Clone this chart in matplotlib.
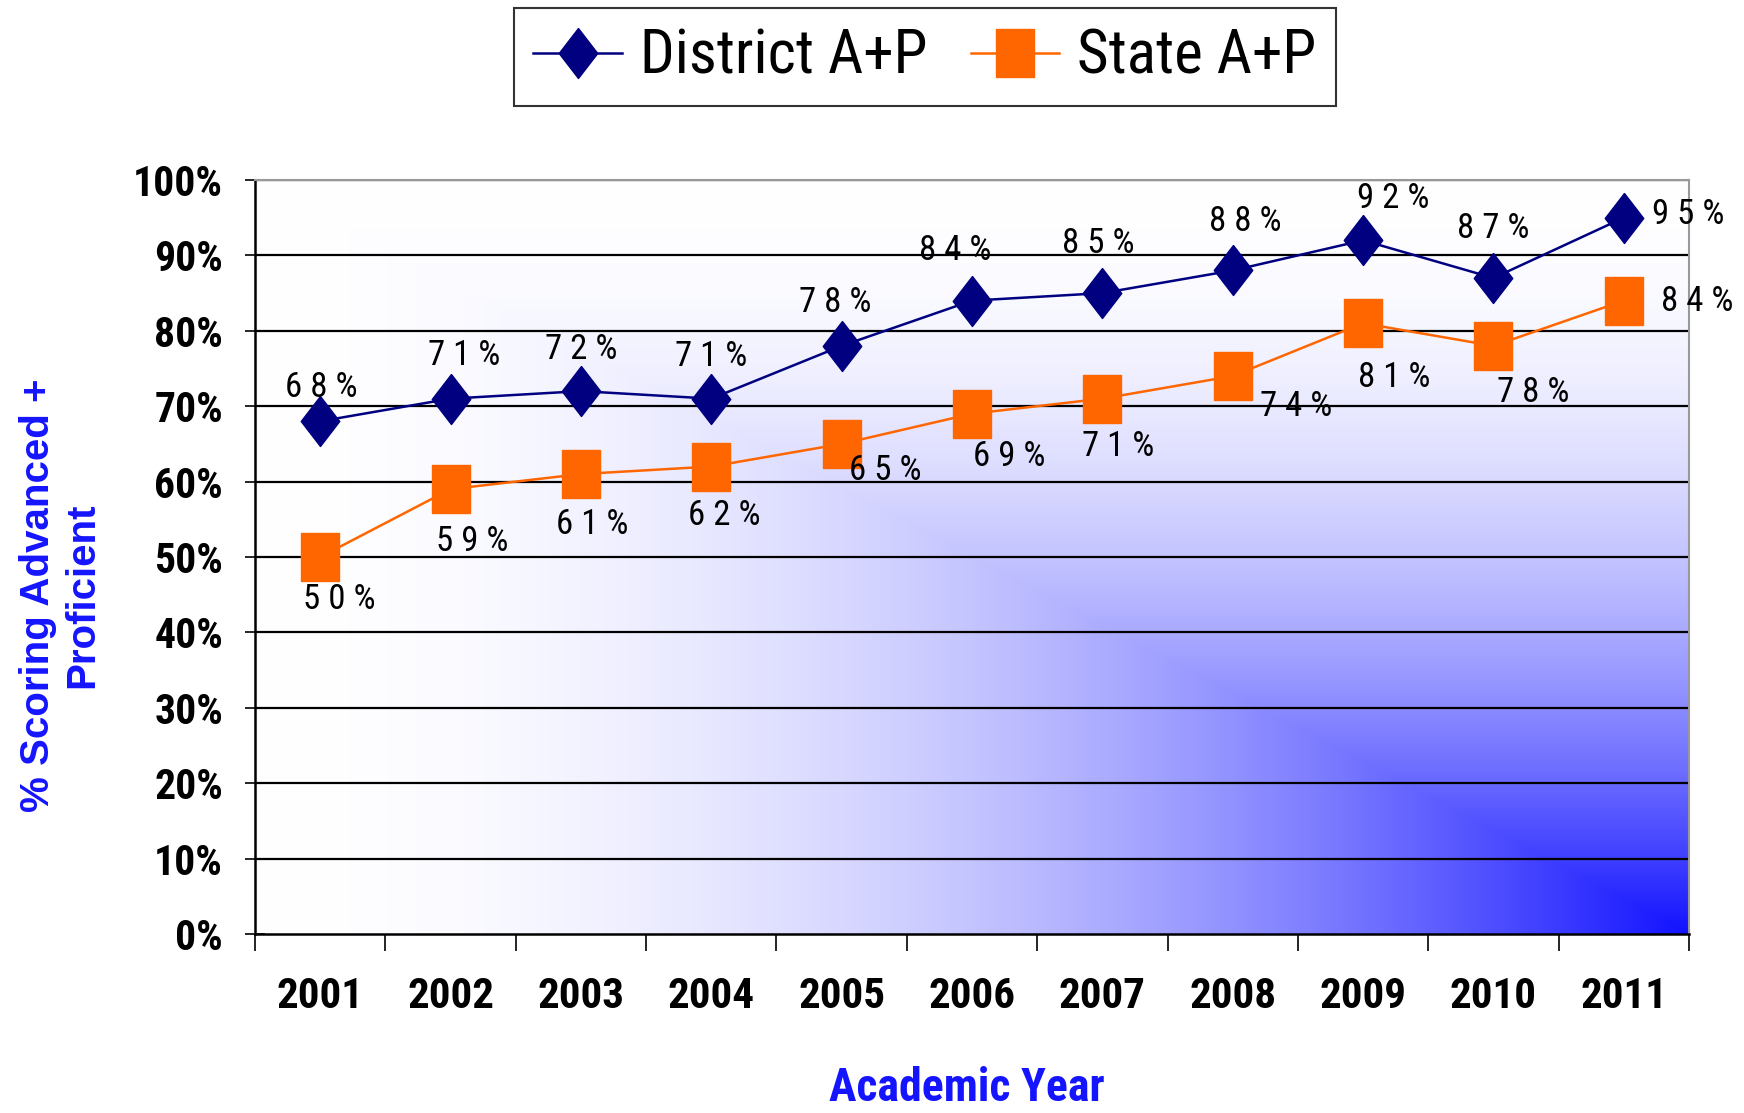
import numpy as np
import matplotlib
matplotlib.use("Agg")
import matplotlib.pyplot as plt
from matplotlib import font_manager
from matplotlib.ticker import FixedLocator, FuncFormatter

# data
years = ['2001', '2002', '2003', '2004', '2005', '2006',
         '2007', '2008', '2009', '2010', '2011']
district = [68, 71, 72, 71, 78, 84, 85, 88, 92, 87, 95]
state = [50, 59, 61, 62, 65, 69, 71, 74, 81, 78, 84]

# label offsets (pixels) for the value labels
dist_off = [(1, 34), (14, 43), (0, 42), (0, 42), (-6, 43), (-17, 50),
            (-4, 50), (13, 49), (30, 42), (0, 50), (64, 3)]
state_off = [(19, -43), (22, -52), (11, -50), (13, -49), (44, -27), (37, -43),
             (16, -48), (63, -30), (31, -54), (40, -47), (73, -1)]


# narrow fonts: take the first one installed (bold one needs a bold face)
def pick(cands, bold=False):
    for c in cands:
        ws = []
        for f in font_manager.fontManager.ttflist:
            if f.name == c:
                w = f.weight
                if isinstance(w, str):
                    w = font_manager.weight_dict.get(w, 400)
                ws.append(w)
        if ws and (not bold or max(ws) >= 700):
            return c
    return None

cands = ['Liberation Sans Narrow', 'Arial Narrow', 'Roboto Condensed',
         'Archivo Narrow', 'PT Sans Narrow', 'Open Sans Condensed',
         'Encode Sans Condensed', 'Fira Sans Condensed', 'IBM Plex Sans Condensed']
reg = pick(cands)
bld = pick(cands, bold=True)
NARROW = [reg or 'DejaVu Sans', 'DejaVu Sans']
NARROW_B = [bld or 'DejaVu Sans', 'DejaVu Sans']
ST = 'normal' if reg else 'condensed'
ST_B = 'normal' if bld else 'condensed'
BOLD = ['Liberation Sans', 'DejaVu Sans']
navy = '#000080'
orange = '#ff6600'
blue_txt = '#1414ff'

fig = plt.figure(figsize=(17.44, 11.13), dpi=100)
fig.set_facecolor('white')
ax = fig.add_axes([255/1744, 1-934/1113, (1689-255)/1744, (934-180)/1113])

x = np.arange(len(years))

# background: corner gradient, white -> blue towards bottom right
u = np.linspace(0, 1, 600)[None, :]
v = np.linspace(1, 0, 400)[:, None]
t = np.minimum(u, 1 - v) ** 2
c0 = np.array([1.0, 1.0, 1.0])
c1 = np.array([0.07, 0.07, 1.0])
img = c0[None, None, :] * (1 - t[..., None]) + c1[None, None, :] * t[..., None]
ax.imshow(img, extent=(-0.5, 10.5, 0, 100), aspect='auto', zorder=0,
          interpolation='bilinear')

# grid
for g in range(10, 101, 10):
    ax.axhline(g, color='black', lw=1.6, zorder=1)

diamond = [(0, 1), (0.77, 0), (0, -1), (-0.77, 0), (0, 1)]
rect = [(-0.77, -1), (0.77, -1), (0.77, 1), (-0.77, 1), (-0.77, -1)]

ax.plot(x, district, color=navy, lw=1.8, marker=diamond, ms=36,
        mfc=navy, mec=navy, label='District A+P', zorder=3)
ax.plot(x, state, color=orange, lw=1.8, marker=rect, ms=35,
        mfc=orange, mec=orange, label='State A+P', zorder=3)

for i in range(len(years)):
    ax.annotate(' '.join(f'{district[i]}%'), (x[i], district[i]),
                xytext=dist_off[i], textcoords='offset pixels',
                ha='center', va='center', fontsize=25, family=NARROW,
                fontstretch=ST, zorder=4)
    ax.annotate(' '.join(f'{state[i]}%'), (x[i], state[i]),
                xytext=state_off[i], textcoords='offset pixels',
                ha='center', va='center', fontsize=25, family=NARROW,
                fontstretch=ST, zorder=4)

ax.set_xlim(-0.5, 10.5)
ax.set_ylim(0, 100)

# x: tick marks on category borders, labels at centres
ax.xaxis.set_major_locator(FixedLocator(np.arange(-0.5, 11, 1)))
ax.xaxis.set_major_formatter(FuncFormatter(lambda v, p: ''))
ax.set_xticks(x, years, minor=True)
ax.tick_params(axis='x', which='major', direction='out', length=12, width=1.2)
ax.tick_params(axis='x', which='minor', length=0, pad=30)
for lab in ax.get_xticklabels(minor=True):
    lab.set_family(NARROW_B)
    lab.set_fontstretch(ST_B)
    lab.set_fontweight('bold')
    lab.set_fontsize(31)

ax.set_yticks(range(0, 101, 10))
ax.set_yticklabels([f'{g}%' for g in range(0, 101, 10)])
ax.tick_params(axis='y', direction='inout', length=14, width=1.2, pad=16)
for lab in ax.get_yticklabels():
    lab.set_family(NARROW_B)
    lab.set_fontstretch(ST_B)
    lab.set_fontweight('bold')
    lab.set_fontsize(30)

for s in ['left', 'bottom']:
    ax.spines[s].set_color('black')
    ax.spines[s].set_linewidth(1.8)
for s in ['top', 'right']:
    ax.spines[s].set_color('#999999')
    ax.spines[s].set_linewidth(1.5)

fig.text(967/1744, 1-1088/1113, 'Academic Year', ha='center', va='center',
         fontsize=33, fontweight='bold', family=NARROW_B, fontstretch=ST_B,
         color=blue_txt)
fig.text(60/1744, 1-595/1113, '% Scoring Advanced +\nProficient', rotation=90,
         ha='center', va='center', fontsize=29, fontweight='bold',
         family=BOLD, color=blue_txt, linespacing=1.2)

leg = fig.legend(loc='center', bbox_to_anchor=(925/1744, 1-57/1113), ncol=2,
                 frameon=True, fancybox=False, edgecolor='black',
                 prop={'family': NARROW, 'size': 44, 'stretch': ST},
                 handlelength=1.45, handletextpad=0.3, columnspacing=0.7,
                 borderpad=0.32, borderaxespad=0)
leg.get_frame().set_linewidth(1.5)

plt.savefig('out.png', dpi=100)
